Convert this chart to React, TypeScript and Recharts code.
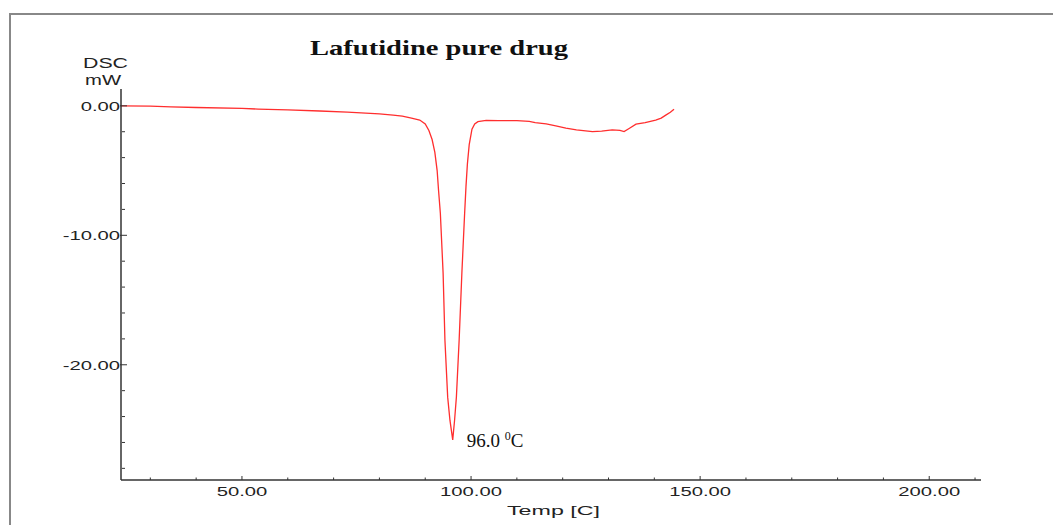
import { LineChart, Line, XAxis, YAxis, ReferenceDot } from "recharts";

// DSC thermogram, heat flow (mW) against temperature (°C)
const temps = [
  23.6, 30, 34.5, 40, 50, 53.5, 60, 67, 73, 76, 80, 83, 85, 87, 88.8, 90, 90.8,
  91.5, 92.1, 92.6, 92.9, 93.3, 93.9, 94.3, 94.9, 95.4, 96.0, 96.4, 96.8, 97.4,
  98.0, 98.6, 98.9, 99.2, 99.6, 100.2, 100.8, 101.5, 103.3, 106, 110, 112.7, 114,
  116.4, 118.5, 120.7, 123, 126.5, 128.5, 130.8, 132.5, 133.4, 134.5, 136, 138,
  140.3, 141.5, 142.5, 143.5, 144.3,
];
const heatFlow = [
  0.0, -0.02, -0.08, -0.13, -0.2, -0.25, -0.32, -0.4, -0.48, -0.55, -0.62, -0.72,
  -0.8, -0.95, -1.1, -1.4, -1.9, -2.6, -3.6, -5.0, -6.5, -8.3, -12.9, -18.1,
  -22.5, -24.3, -25.8, -24.3, -22.5, -18.1, -12.9, -8.3, -6.2, -4.5, -3.0, -1.8,
  -1.4, -1.22, -1.12, -1.15, -1.15, -1.2, -1.3, -1.4, -1.55, -1.72, -1.85, -1.99,
  -1.95, -1.86, -1.9, -1.99, -1.75, -1.42, -1.3, -1.1, -0.95, -0.72, -0.5, -0.26,
];

const xTicks = [30, 40, 50, 60, 70, 80, 90, 100, 110, 120, 130, 140, 150, 160, 170, 180, 190, 200, 210];
const xMajor = [50, 100, 150, 200];
const yTicks = [-28, -26, -24, -22, -20, -18, -16, -14, -12, -10, -8, -6, -4, -2, 0];
const yMajor = [0, -10, -20];

const peakTemp = 96.0;
const peakFlow = -25.8;

const xDomain: [number, number] = [23.6, 211.3];
const yDomain: [number, number] = [-28.9, 1.3];

const data = temps.map((t, i) => ({ temp: t, mw: heatFlow[i] }));

const sans = "'Liberation Sans', Arial, sans-serif";
const serif = "'Liberation Serif', 'Times New Roman', serif";

function TempTick(props: any) {
  const { x, y, payload } = props;
  const major = xMajor.includes(payload.value);
  return (
    <g>
      <line x1={x} x2={x} y1={y} y2={y - (major ? 4 : 2.5)} stroke="#333" strokeWidth={1} />
      {major && (
        <text
          transform={`translate(${x},${y + 16}) scale(1.5,1)`}
          textAnchor="middle"
          fontFamily={sans}
          fontSize={13.5}
          fill="#222"
        >
          {payload.value.toFixed(2)}
        </text>
      )}
    </g>
  );
}

function FlowTick(props: any) {
  const { x, y, payload } = props;
  const major = yMajor.includes(payload.value);
  return (
    <g>
      <line
        x1={major ? x - 1 : x + 1}
        x2={major ? x + 6 : x + 4}
        y1={y}
        y2={y}
        stroke="#333"
        strokeWidth={1}
      />
      {major && (
        <text
          transform={`translate(${x - 1},${y + 5}) scale(1.5,1)`}
          textAnchor="end"
          fontFamily={sans}
          fontSize={13.5}
          fill="#222"
        >
          {payload.value.toFixed(2)}
        </text>
      )}
    </g>
  );
}

function PeakLabel(props: any) {
  const { viewBox } = props;
  const px = viewBox.x + viewBox.width / 2;
  const py = viewBox.y + viewBox.height / 2;
  return (
    <text x={px + 14} y={py + 7} fontFamily={serif} fontSize={19} fill="#111">
      <tspan>{peakTemp.toFixed(1)} </tspan>
      <tspan dy={-7} fontSize={12}>0</tspan>
      <tspan dy={7}>C</tspan>
    </text>
  );
}

export default function App() {
  return (
    <div
      style={{
        position: "absolute",
        left: 0,
        top: 0,
        width: 1053,
        height: 525,
        overflow: "hidden",
        background: "#fff",
      }}
    >
      <div
        style={{
          position: "absolute",
          left: 9,
          top: 13,
          width: 1100,
          height: 600,
          borderLeft: "2px solid #888",
          borderTop: "2px solid #888",
        }}
      />
      <LineChart
        width={1053}
        height={525}
        data={data}
        margin={{ top: 89, right: 72, bottom: 15, left: 61 }}
      >
        <XAxis
          dataKey="temp"
          type="number"
          domain={xDomain}
          allowDataOverflow
          ticks={xTicks}
          interval={0}
          tickSize={0}
          tickMargin={0}
          height={30}
          tick={<TempTick />}
          axisLine={{ stroke: "#333", strokeWidth: 1.5 }}
          tickLine={false}
        />
        <XAxis
          xAxisId="top"
          orientation="top"
          dataKey="temp"
          type="number"
          domain={xDomain}
          allowDataOverflow
          height={0}
          tick={false}
          tickLine={false}
          axisLine={{ stroke: "#aaa", strokeWidth: 1 }}
        />
        <YAxis
          type="number"
          domain={yDomain}
          allowDataOverflow
          ticks={yTicks}
          interval={0}
          tickSize={0}
          tickMargin={0}
          width={60}
          tick={<FlowTick />}
          axisLine={{ stroke: "#333", strokeWidth: 1.5 }}
          tickLine={false}
        />
        <YAxis
          yAxisId="right"
          orientation="right"
          type="number"
          domain={yDomain}
          allowDataOverflow
          width={0}
          tick={false}
          tickLine={false}
          axisLine={{ stroke: "#444", strokeWidth: 1.3 }}
        />
        <Line
          dataKey="mw"
          type="linear"
          stroke="#ff2e2e"
          strokeWidth={1.3}
          dot={false}
          isAnimationActive={false}
        />
        <ReferenceDot
          x={peakTemp}
          y={peakFlow}
          r={0}
          fill="none"
          stroke="none"
          label={<PeakLabel />}
        />
      </LineChart>
      <svg
        width={1053}
        height={525}
        style={{ position: "absolute", left: 0, top: 0, pointerEvents: "none" }}
      >
        <text
          x={310}
          y={55}
          fontFamily={serif}
          fontWeight="bold"
          fontSize={21}
          textLength={258}
          lengthAdjust="spacingAndGlyphs"
          fill="#111"
        >
          Lafutidine pure drug
        </text>
        <text x={83} y={68} fontFamily={sans} fontSize={15} textLength={45} lengthAdjust="spacingAndGlyphs" fill="#222">
          DSC
        </text>
        <text x={85} y={85} fontFamily={sans} fontSize={15} textLength={36} lengthAdjust="spacingAndGlyphs" fill="#222">
          mW
        </text>
        <text x={507} y={515} fontFamily={sans} fontSize={13.5} textLength={93} lengthAdjust="spacingAndGlyphs" fill="#222">
          Temp [C]
        </text>
      </svg>
    </div>
  );
}
